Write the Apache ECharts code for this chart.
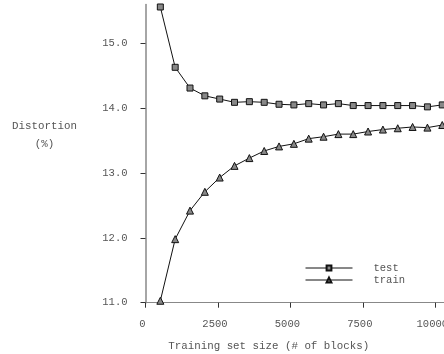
<!DOCTYPE html>
<html><head><meta charset="utf-8">
<script src="https://cdn.jsdelivr.net/npm/echarts@6/dist/echarts.min.js"></script>
<style>html,body{margin:0;padding:0;background:#fff}#c{width:444px;height:354px}</style>
</head><body><div id="c"></div>
<script>
const blockSizes = [512,1024,1536,2048,2560,3072,3584,4096,4608,5120,5632,6144,6656,7168,7680,8192,8704,9216,9728,10240];
const testValues = [15.56,14.63,14.31,14.19,14.14,14.09,14.10,14.09,14.06,14.05,14.07,14.05,14.07,14.04,14.04,14.04,14.04,14.04,14.02,14.05];
const trainValues = [11.03,11.98,12.42,12.71,12.93,13.11,13.23,13.34,13.41,13.45,13.53,13.56,13.60,13.60,13.64,13.67,13.69,13.71,13.70,13.74];
const xTicks = [0,2500,5000,7500,10000];
const yTicks = [11,12,13,14,15];

const font = '"Liberation Mono", "DejaVu Sans Mono", monospace';
const textColor = '#555';
const chart = echarts.init(document.getElementById('c'));
chart.setOption({
  animation: false,
  grid: {left: 145.5, right: 0, top: 4.4, bottom: 51.3, containLabel: false, outerBoundsMode: 'none'},
  xAxis: {
    type: 'value', min: 0, max: 10300,
    name: 'Training set size (# of blocks)',
    nameLocation: 'middle', nameGap: 38,
    nameTextStyle: {fontFamily: font, fontSize: 10.8, color: textColor, padding: [0, 52, 0, 0]},
    axisLine: {show: true, lineStyle: {color: '#888', width: 1}},
    axisTick: {show: true, length: 5, customValues: xTicks, lineStyle: {color: '#333'}},
    axisLabel: {customValues: xTicks, formatter: v => String(v), fontFamily: font, fontSize: 10.5, color: textColor, margin: 16, padding: [0, 6, 0, 0]},
    splitLine: {show: false}
  },
  yAxis: {
    type: 'value', min: 11, max: 15.6,
    name: 'Distortion\n(%)',
    nameLocation: 'middle', nameRotate: 0, nameGap: 101,
    nameTextStyle: {fontFamily: font, fontSize: 10.8, color: textColor, align: 'center', verticalAlign: 'bottom', lineHeight: 18},
    axisLine: {show: true, lineStyle: {color: '#888', width: 1.5}},
    axisTick: {show: true, length: 5, customValues: yTicks, lineStyle: {color: '#333'}},
    axisLabel: {customValues: yTicks, formatter: v => v.toFixed(1), fontFamily: font, fontSize: 10.5, color: textColor, margin: 18},
    splitLine: {show: false}
  },
  legend: {
    orient: 'vertical', left: 300, top: 257,
    itemWidth: 47, itemHeight: 6, itemGap: 0,
    lineStyle: {width: 1},
    textStyle: {fontFamily: font, fontSize: 10.5, color: textColor, lineHeight: 12, padding: [0, 0, 0, 16]},
    data: ['test', 'train']
  },
  series: [
    {
      name: 'test', type: 'line',
      data: blockSizes.map((x, i) => [x, testValues[i]]),
      symbol: 'rect', symbolSize: 6,
      lineStyle: {color: '#111', width: 1},
      itemStyle: {color: '#888', borderColor: '#111', borderWidth: 1}
    },
    {
      name: 'train', type: 'line',
      data: blockSizes.map((x, i) => [x, trainValues[i]]),
      symbol: 'triangle', symbolSize: 7,
      lineStyle: {color: '#111', width: 1},
      itemStyle: {color: '#888', borderColor: '#111', borderWidth: 1}
    }
  ]
});
</script></body></html>
